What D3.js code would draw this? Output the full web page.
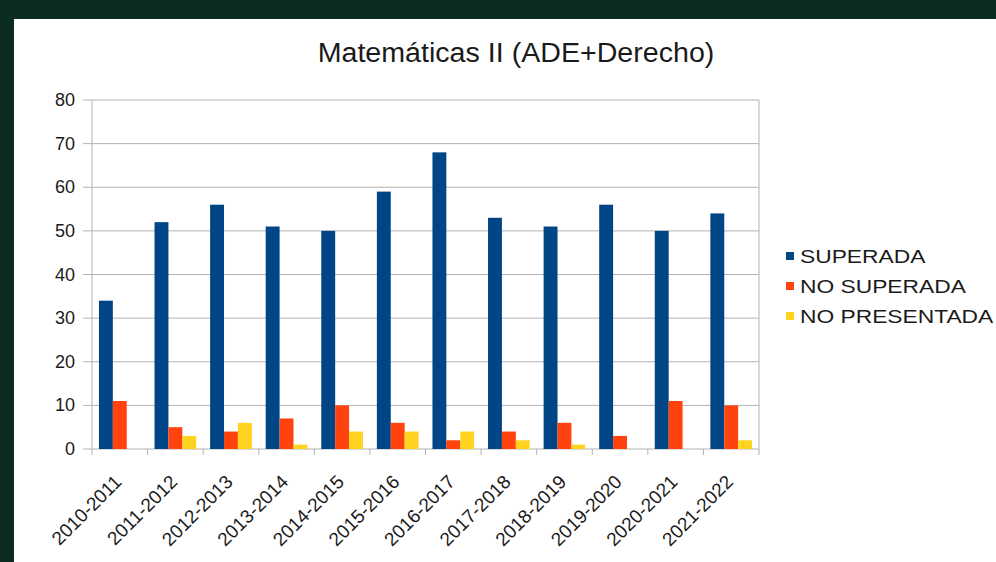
<!DOCTYPE html>
<html>
<head>
<meta charset="utf-8">
<script src="https://cdn.jsdelivr.net/npm/d3@7"></script>
<style>
  html, body { margin: 0; padding: 0; background: #0b2b23; }
  svg { display: block; }
  text { font-family: "Liberation Sans", Arial, sans-serif; fill: #1a1a1a; }
</style>
</head>
<body>
<div id="chart"></div>
<script>
const title = "Matemáticas II (ADE+Derecho)"
const cursos = ["2010-2011", "2011-2012", "2012-2013", "2013-2014", "2014-2015", "2015-2016",
  "2016-2017", "2017-2018", "2018-2019", "2019-2020", "2020-2021", "2021-2022"]
const seriesNames = ["SUPERADA", "NO SUPERADA", "NO PRESENTADA"]
const superada = [34, 52, 56, 51, 50, 59, 68, 53, 51, 56, 50, 54]
const noSuperada = [11, 5, 4, 7, 10, 6, 2, 4, 6, 3, 11, 10]
const noPresentada = [0, 3, 6, 1, 4, 4, 4, 2, 1, 0, 0, 2]
const yTicks = [0, 10, 20, 30, 40, 50, 60, 70, 80]
const colors = ["#004586", "#ff420e", "#ffd320"]

const width = 996
const height = 562
const plot = { left: 92, right: 759, top: 100, bottom: 449 }

const svg = d3.select("#chart").append("svg")
  .attr("width", width)
  .attr("height", height)

// white card inside the dark frame
svg.append("rect")
  .attr("x", 14).attr("y", 19)
  .attr("width", width - 14).attr("height", height - 19)
  .attr("fill", "#ffffff")

// title, a bit wider than the font like in the screenshot
svg.append("g")
  .attr("transform", "translate(516,62) scale(1.06,1)")
  .append("text")
  .attr("text-anchor", "middle")
  .attr("font-size", "27px")
  .text(title)

const x = d3.scaleBand()
  .domain(cursos)
  .range([plot.left, plot.right])

const xInner = d3.scaleBand()
  .domain(seriesNames)
  .range([0, x.bandwidth()])
  .paddingOuter(0.5) // gap of one bar width split on both sides

const y = d3.scaleLinear()
  .domain([0, 80])
  .range([plot.bottom, plot.top])

// gridlines
svg.append("g")
  .selectAll("line")
  .data(yTicks)
  .enter()
  .append("line")
  .attr("x1", plot.left - 9).attr("x2", plot.right)
  .attr("y1", d => y(d)).attr("y2", d => y(d))
  .attr("stroke", "#b3b3b3")
  .attr("stroke-width", 1)

// y axis labels
svg.append("g")
  .selectAll("text")
  .data(yTicks)
  .enter()
  .append("text")
  .attr("x", plot.left - 17)
  .attr("y", d => y(d) + 6)
  .attr("text-anchor", "end")
  .attr("font-size", "18px")
  .text(d => d)

// left and right frame of the plot
svg.append("line")
  .attr("x1", plot.left).attr("x2", plot.left)
  .attr("y1", plot.top).attr("y2", plot.bottom)
  .attr("stroke", "#b3b3b3")
svg.append("line")
  .attr("x1", plot.right).attr("x2", plot.right)
  .attr("y1", plot.top).attr("y2", plot.bottom + 6)
  .attr("stroke", "#b3b3b3")

// x ticks at category boundaries
svg.append("g")
  .selectAll("line")
  .data(cursos)
  .enter()
  .append("line")
  .attr("x1", d => x(d)).attr("x2", d => x(d))
  .attr("y1", plot.bottom).attr("y2", plot.bottom + 6)
  .attr("stroke", "#b3b3b3")

const data = cursos.map((c, i) => ({
  curso: c,
  values: [superada[i], noSuperada[i], noPresentada[i]]
}))

const groups = svg.append("g")
  .selectAll("g")
  .data(data)
  .enter()
  .append("g")
  .attr("transform", d => `translate(${x(d.curso)},0)`)

groups.selectAll("rect")
  .data(d => d.values.map((v, j) => ({ name: seriesNames[j], value: v, color: colors[j] })))
  .enter()
  .append("rect")
  .attr("x", d => xInner(d.name))
  .attr("y", d => y(d.value))
  .attr("width", xInner.bandwidth())
  .attr("height", d => plot.bottom - y(d.value))
  .attr("fill", d => d.color)

// rotated category labels
svg.append("g")
  .selectAll("text")
  .data(cursos)
  .enter()
  .append("text")
  .attr("transform", d => `translate(${x(d) + x.bandwidth() / 2 + 3},${plot.bottom + 34}) rotate(-45)`)
  .attr("text-anchor", "end")
  .attr("font-size", "19px")
  .text(d => d)

// legend
const legend = svg.append("g")
  .selectAll("g")
  .data(seriesNames)
  .enter()
  .append("g")
  .attr("transform", (d, i) => `translate(786,${256 + i * 30})`)

legend.append("rect")
  .attr("x", 0).attr("y", -4)
  .attr("width", 8).attr("height", 8)
  .attr("fill", (d, i) => colors[i])

legend.append("text")
  .attr("transform", "translate(14,7) scale(1.2,1)")
  .attr("font-size", "19px")
  .text(d => d)
</script>
</body>
</html>
